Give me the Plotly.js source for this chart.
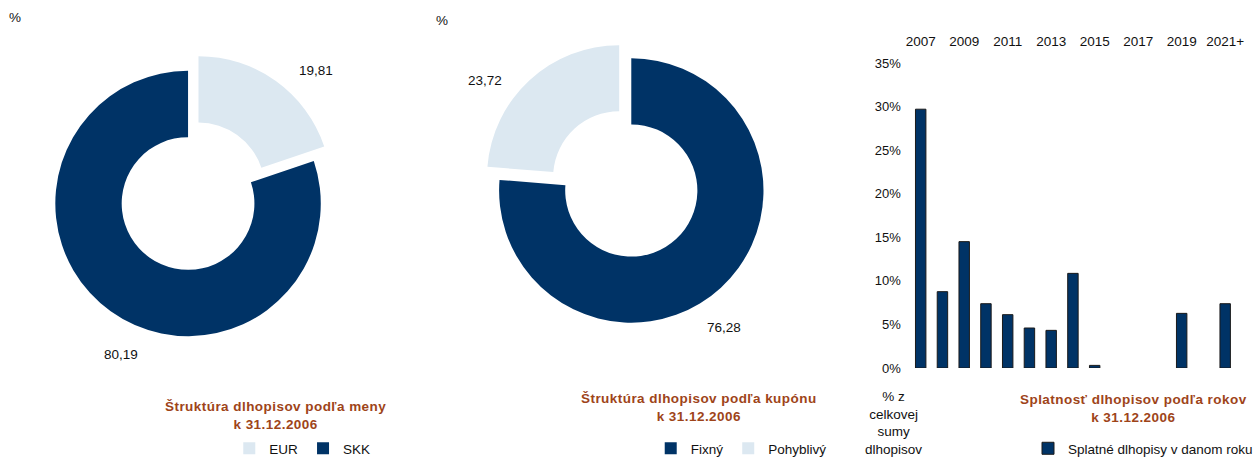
<!DOCTYPE html>
<html>
<head>
<meta charset="utf-8">
<script src="https://cdn.plot.ly/plotly-3.0.1.min.js"></script>
<style>html,body{margin:0;padding:0;background:#fff;}#chart{width:1258px;height:464px;}</style>
</head>
<body>
<div id="chart"></div>
<script>
// ---- data ----
var currencyLabels = ['EUR', 'SKK'];
var currencyValues = [19.81, 80.19];
var couponLabels = ['Fixný', 'Pohyblivý'];
var couponValues = [76.28, 23.72];
var maturityYears = ['2007','2008','2009','2010','2011','2012','2013','2014','2015','2016','2017','2018','2019','2020','2021+'];
var maturityShares = [29.7, 8.76, 14.5, 7.38, 6.12, 4.59, 4.32, 10.86, 0.3, null, null, null, 6.27, null, 7.38];
var maturityTickLabels = ['2007','2009','2011','2013','2015','2017','2019','2021+'];
var yTicks = [0, 5, 10, 15, 20, 25, 30, 35];
var yTickLabels = ['0%', '5%', '10%', '15%', '20%', '25%', '30%', '35%'];
var seriesName = 'Splatné dlhopisy v danom roku';
var title1 = ['Štruktúra dlhopisov podľa meny', 'k 31.12.2006'];
var title2 = ['Štruktúra dlhopisov podľa kupónu', 'k 31.12.2006'];
var title3 = ['Splatnosť dlhopisov podľa rokov', 'k 31.12.2006'];
var yAxisNoteLines = ['% z', 'celkovej', 'sumy', 'dlhopisov'];

// ---- styles ----
var W = 1258, H = 464;
var DARK = '#003366', LIGHT = '#dce8f1', BROWN = '#9e4419';
var FONT = 'Liberation Sans, Arial, sans-serif';
function px(x){ return x / W; }
function py(y){ return 1 - y / H; }
function fmt(v){ return v.toFixed(2).replace('.', ','); }

var traces = [
  {
    type: 'pie', labels: currencyLabels, values: currencyValues,
    sort: false, direction: 'clockwise', rotation: 0, hole: 0.5,
    pull: [0.135, 0],
    marker: {colors: [LIGHT, DARK], line: {width: 0}},
    textinfo: 'none',
    domain: {x: [px(37.5), px(339.5)], y: [py(354.5), py(52.5)]},
    legend: 'legend', hoverinfo: 'label+value'
  },
  {
    type: 'pie', labels: couponLabels, values: couponValues,
    sort: false, direction: 'clockwise', rotation: 0, hole: 0.5,
    pull: [0, 0.135],
    marker: {colors: [DARK, LIGHT], line: {width: 0}},
    textinfo: 'none',
    domain: {x: [px(482.4), px(783.2)], y: [py(340.9), py(40.1)]},
    legend: 'legend2', hoverinfo: 'label+value'
  },
  {
    type: 'bar', x: maturityYears, y: maturityShares, name: seriesName,
    marker: {color: DARK, line: {color: '#1a1a1a', width: 1}},
    xaxis: 'x', yaxis: 'y', legend: 'legend3', showlegend: true
  }
];

function titleText(lines){
  return lines.map(function(l){
    return '<span style="letter-spacing:0.45px"><b>' + l + '</b></span>';
  }).join('<br>');
}

var plain = [
  {text: '%', x: 15, y: 17},
  {text: '%', x: 443, y: 20},
  {text: fmt(currencyValues[0]), x: 317, y: 71},
  {text: fmt(currencyValues[1]), x: 121, y: 354},
  {text: fmt(couponValues[1]), x: 486, y: 81},
  {text: fmt(couponValues[0]), x: 726, y: 327},
  {text: yAxisNoteLines.join('<br>'), x: 896, y: 423}
];
var annotations = plain.map(function(a){
  return {
    text: a.text, x: px(a.x), y: py(a.y), xref: 'paper', yref: 'paper',
    xanchor: 'center', yanchor: 'middle', showarrow: false,
    font: {family: FONT, size: 13.5, color: '#111'}
  };
});
[{lines: title1, x: 276, y: 415}, {lines: title2, x: 701, y: 407}, {lines: title3, x: 1136, y: 408.3}].forEach(function(t){
  annotations.push({
    text: titleText(t.lines), x: px(t.x), y: py(t.y), xref: 'paper', yref: 'paper',
    xanchor: 'center', yanchor: 'middle', showarrow: false,
    font: {family: FONT, size: 13.5, color: BROWN}
  });
});

var legendBase = {
  orientation: 'h', xref: 'paper', yref: 'paper', yanchor: 'bottom', xanchor: 'center', y: 0,
  font: {family: FONT, size: 13.5, color: '#111'}, bgcolor: 'rgba(0,0,0,0)', traceorder: 'normal'
};
function legendAt(x){
  var l = JSON.parse(JSON.stringify(legendBase));
  l.x = px(x);
  return l;
}

var layout = {
  width: W, height: H,
  margin: {l: 0, r: 0, t: 0, b: 0},
  paper_bgcolor: '#fff', plot_bgcolor: '#fff',
  separators: ', ',
  font: {family: FONT, size: 13.5, color: '#111'},
  showlegend: true,
  bargap: 0.52,
  xaxis: {
    type: 'category', domain: [px(912), px(1239)], side: 'top',
    tickmode: 'array', tickvals: maturityTickLabels, ticktext: maturityTickLabels,
    showgrid: false, zeroline: false, showline: false, ticks: '',
    ticklabelstandoff: 13, anchor: 'y',
    tickfont: {family: FONT, size: 13.5, color: '#111'}
  },
  yaxis: {
    range: [0, 35], domain: [py(368), py(63)],
    tickmode: 'array', tickvals: yTicks, ticktext: yTickLabels,
    showgrid: false, zeroline: false, showline: false, ticks: '',
    ticklabelstandoff: 8, anchor: 'x',
    tickfont: {family: FONT, size: 13, color: '#111'}
  },
  legend: legendAt(303),
  legend2: legendAt(743),
  legend3: legendAt(1146),
  annotations: annotations
};

Plotly.newPlot('chart', traces, layout, {displayModeBar: false, staticPlot: true});
</script>
</body>
</html>
